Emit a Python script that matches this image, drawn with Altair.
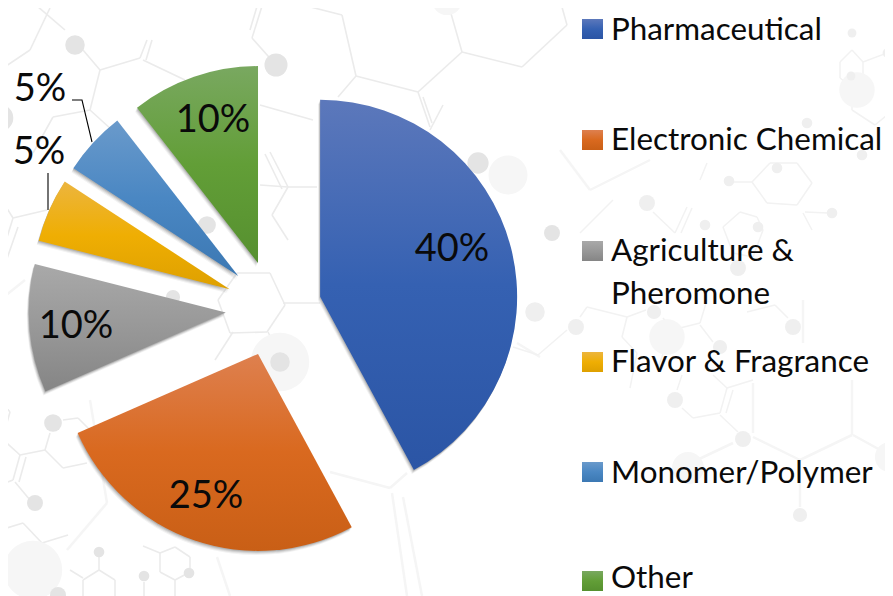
import math
import altair as alt
import pandas as pd

# ---- chart values ----
categories = ["Pharmaceutical", "Electronic Chemical", "Agriculture & Pheromone",
              "Flavor & Fragrance", "Monomer/Polymer", "Other"]
shares = [40, 25, 10, 5, 5, 10]
share_labels = ["40%", "25%", "10%", "5%", "5%", "10%"]
gradient_stops = [
    ["#5c78bb", "#3561b2", "#2b55a5"],
    ["#de804f", "#d9691f", "#c95f16"],
    ["#a9a9a9", "#989898", "#858585"],
    ["#ecb53e", "#efae03", "#dea000"],
    ["#6a9acb", "#4a87c3", "#3c78b3"],
    ["#79a860", "#629e37", "#56902f"],
]
label_x = [452, 206, 76, 39, 40, 213]
label_y = [250, 497, 327, 153, 90, 121]
legend_lines = ["Pharmaceutical", "Electronic Chemical", "Agriculture &", "Pheromone",
                "Flavor & Fragrance", "Monomer/Polymer", "Other"]
legend_line_y = [31, 141, 252, 295, 363, 474, 579]
legend_square_y = [29, 140, 251, 362, 472, 581]

# ---- background decoration: molecule sketch ----
bond_paths = [
    [(283,0),(342,15),(356,76),(418,92),(462,52),(522,67),(567,25),(560,0)],
    [(462,52),(450,10)], [(356,76),(338,97)], [(260,105),(313,120)],
    [(418,92),(430,127)], [(423,97),(432,123)], [(430,130),(443,105)],
    [(263,3),(252,38),(276,65)], [(258,3),(250,30)],
    [(288,187),(270,152)], [(282,189),(265,154)], [(260,185),(288,187),(317,187)],
    [(288,187),(272,215),(288,240)],
    [(83,50),(100,70),(140,58),(147,40)], [(146,60),(152,40)],
    [(100,70),(90,110),(53,117),(33,153)], [(143,60),(185,80)],
    [(30,0),(65,30)], [(0,70),(30,50),(50,8)], [(90,110),(112,130)],
    [(0,197),(13,218),(47,210)], [(13,218),(0,260)], [(18,227),(3,270)],
    [(218,300),(237,273),(270,273),(285,305),(267,332),(230,333),(218,300)],
    [(283,303),(320,303)], [(268,332),(278,352)], [(233,332),(215,360)],
    [(63,420),(78,418),(90,430)], [(50,433),(45,450),(20,455),(0,437)],
    [(45,450),(63,468),(87,463)], [(20,455),(13,480),(0,485)], [(26,457),(19,482)],
    [(15,482),(30,500)], [(0,400),(10,412),(3,437)],
    [(0,530),(23,523),(42,543),(68,535)], [(42,543),(35,570),(10,575),(0,565)],
    [(46,545),(39,572)], [(35,570),(57,590)],
    [(99,557),(99,570),(83,580),(83,596)], [(99,570),(115,580),(115,596)],
    [(83,578),(70,570)], [(144,582),(144,596)],
    [(160,553),(175,547),(190,557),(190,572),(175,580),(160,572),(160,553)],
    [(160,553),(143,546)], [(175,580),(175,596)],
]
right_paths = [
    [(653,212),(675,233),(687,207)], [(681,233),(692,208)], [(613,200),(580,233)],
    [(567,330),(538,355),(513,347)], [(580,317),(587,307),(627,317),(622,337),(637,353),(630,388)],
    [(627,317),(646,310)], [(663,318),(672,330),(700,323),(707,300)],
    [(700,325),(713,342)], [(672,330),(657,370)],
    [(677,390),(682,375)], [(682,408),(693,418),(720,413),(727,388),(753,380)],
    [(726,413),(733,390)], [(713,375),(727,388)], [(720,415),(738,432)],
    [(747,312),(775,305),(788,318)],
    [(723,227),(740,212),(757,217),(763,230),(753,257),(733,253),(723,227)],
    [(752,182),(770,163),(797,163),(812,183),(797,205),(767,203),(752,182)],
    [(733,182),(752,182)], [(707,163),(700,180)], [(805,212),(828,213)], [(803,213),(812,230)],
    [(840,62),(852,50),(863,62),(863,78),(852,87),(840,78),(840,62)],
    [(852,87),(852,110),(875,125),(893,110)], [(863,62),(887,53)],
]
faint_paths = [
    [(330,472),(390,488),(407,473)], [(392,493),(407,596)], [(403,497),(422,596)],
    [(90,400),(107,503),(67,550)], [(217,557),(230,596)],
    [(517,343),(540,357)], [(733,443),(697,460)],
    [(753,383),(753,433)], [(753,437),(800,460),(852,435),(852,380)],
    [(800,460),(800,507)], [(853,435),(893,457)], [(803,300),(803,343)],
    [(560,150),(590,190),(650,160)], [(0,300),(25,280)],
]
atom_x = [276, 75, 0, 207, 173, 280, 478, 552, 53, 35, 58, 99, 144, 189,
          535, 576, 654, 720, 675, 743, 793, 647, 705, 758, 738, 777, 729, 832, 807, 862, 852, 851, 887, 800,
          890, 447, 508, 667, 688, 33, 280, 857]
atom_y = [65, 45, 118, 225, 297, 362, 163, 233, 423, 503, 595, 552, 576, 573,
          312, 327, 312, 347, 400, 439, 327, 203, 225, 227, 268, 168, 181, 213, 123, 155, 33, 76, 53, 515,
          457, 0, 175, 337, 468, 570, 362, 90]
atom_r = [13, 11, 15, 10, 8, 11, 12, 9, 10, 9, 9, 6, 6, 6,
          11, 9, 8, 8, 9, 9, 9, 9, 6, 6, 9, 6, 6, 6, 6, 6, 5, 5, 5, 8,
          17, 17, 22, 20, 18, 33, 33, 20]
atom_fill = ["#e4e4e4"] * 14 + ["#efefef"] * 20 + ["#f6f6f6"] * 8

# ---- scales map picture coordinates onto the plot area (page margin is 8px) ----
W, H = 893, 596
PLOT_W, PLOT_H = W - 16, H - 8
sx = alt.Scale(domain=[8, W - 8], range=[0, PLOT_W])
sy = alt.Scale(domain=[8, H], range=[0, PLOT_H])
X = lambda f: alt.X(f, type="quantitative", scale=sx, axis=None)
Y = lambda f: alt.Y(f, type="quantitative", scale=sy, axis=None)

RADIUS = 197
EXPLODE = 48
CX, CY = 273.6, 308.5

total = sum(shares)
rows, acc = [], 0.0
for cat, s in zip(categories, shares):
    a0 = acc / total * 2 * math.pi
    a1 = (acc + s) / total * 2 * math.pi
    mid = (a0 + a1) / 2
    rows.append(dict(cat=cat, a0=a0, a1=a1,
                     cx=CX + EXPLODE * math.sin(mid),
                     cy=CY - EXPLODE * math.cos(mid)))
    acc += s
slices = pd.DataFrame(rows)


def grad(c):
    return alt.Gradient(gradient="linear", x1=0, x2=0, y1=0, y2=1,
                        stops=[alt.GradientStop(color=c[0], offset=0),
                               alt.GradientStop(color=c[1], offset=0.5),
                               alt.GradientStop(color=c[2], offset=1)])


layers = []

# background
bg_rows = []
for group, paths in (("a", bond_paths), ("r", right_paths), ("b", faint_paths)):
    for p in paths:
        for (x0, y0), (x1, y1) in zip(p, p[1:]):
            bg_rows.append(dict(g=group, x=x0, y=y0, x2=x1, y2=y1))
bg = pd.DataFrame(bg_rows)
for group, stroke, sw in (("b", "#f5f5f5", 2.5), ("r", "#f2f2f2", 1.5), ("a", "#ebebeb", 1.6)):
    layers.append(alt.Chart(bg[bg.g == group]).mark_rule(stroke=stroke, strokeWidth=sw).encode(
        x=X("x"), y=Y("y"), x2="x2", y2="y2"))
atoms = pd.DataFrame(dict(x=atom_x, y=atom_y, r=atom_r, fill=atom_fill))
atoms["size"] = math.pi * atoms.r ** 2
atoms = atoms.sort_values("r", ascending=False)
for fill in ("#f6f6f6", "#efefef", "#e4e4e4"):
    layers.append(alt.Chart(atoms[atoms.fill == fill]).mark_circle(opacity=1, color=fill).encode(
        x=X("x"), y=Y("y"), size=alt.Size("size:Q", scale=None, legend=None)))

# slices with soft shadow and gradient
arc_enc = dict(x=X("cx"), y=Y("cy"),
               theta=alt.Theta("a0:Q", scale=None), theta2="a1")
for off, op in ((4, 0.05), (3, 0.07), (2, 0.09), (1, 0.12)):
    layers.append(alt.Chart(slices).mark_arc(radius=RADIUS, fill="#000000", opacity=op,
                                             xOffset=-off / 2, yOffset=off).encode(**arc_enc))
for i, cat in enumerate(categories):
    layers.append(alt.Chart(slices[slices.cat == cat]).mark_arc(
        radius=RADIUS, fill=grad(gradient_stops[i])).encode(**arc_enc))

# leader lines
leaders = pd.DataFrame(dict(k=["a", "a", "a", "b", "b"], o=[0, 1, 2, 3, 4],
                            x=[72, 82, 92, 48, 48], y=[100, 100, 142, 173, 210]))
layers.append(alt.Chart(leaders).mark_line(color="#000000", strokeWidth=1.1).encode(
    x=X("x"), y=Y("y"), detail="k:N", order=alt.Order("o:Q")))

# slice labels
labels = pd.DataFrame(dict(t=share_labels, x=label_x, y=label_y))
layers.append(alt.Chart(labels).mark_text(font="Lato", fontSize=38, color="#0a0a0a", align="center",
                                          baseline="middle").encode(x=X("x"), y=Y("y"), text="t:N"))

# legend
sq = pd.DataFrame(dict(cat=categories, y=legend_square_y))
for i, cat in enumerate(categories):
    d = sq[sq.cat == cat].assign(x=582, x2=603, y0=lambda t: t.y - 10, y1=lambda t: t.y + 10)
    layers.append(alt.Chart(d).mark_rect(fill=grad(gradient_stops[i])).encode(
        x=X("x"), x2="x2", y=Y("y0"), y2="y1"))
lg = pd.DataFrame(dict(t=legend_lines, y=legend_line_y, x=611))
layers.append(alt.Chart(lg).mark_text(font="Lato", fontSize=31.4, color="#0a0a0a", align="left",
                                      baseline="middle").encode(x=X("x"), y=Y("y"), text="t:N"))

chart = alt.layer(*layers).properties(width=PLOT_W, height=PLOT_H, padding=0, background="#ffffff",
                                      autosize=alt.AutoSizeParams(type="none")).configure_view(
    strokeWidth=0)
chart.save("out.html", embed_options={"renderer": "svg", "actions": False})
